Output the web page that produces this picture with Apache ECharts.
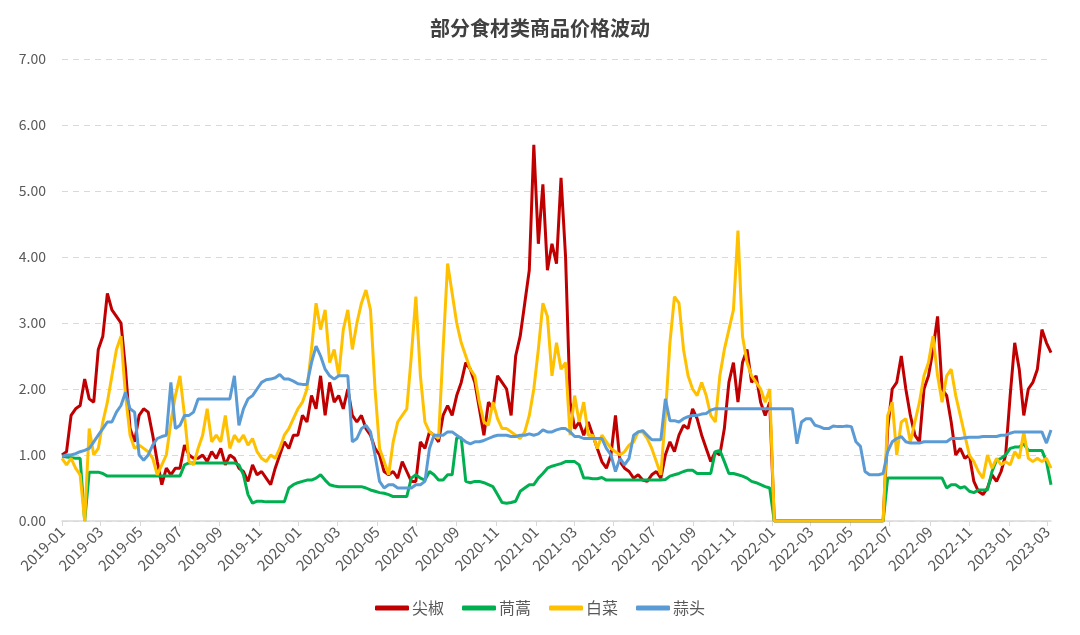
<!DOCTYPE html>
<html>
<head>
<meta charset="utf-8">
<title>部分食材类商品价格波动</title>
<script src="https://cdn.jsdelivr.net/npm/echarts@6/dist/echarts.min.js"></script>
<style>
  html, body { margin: 0; padding: 0; background: #fff; }
  #chart { width: 1080px; height: 635px; }
</style>
</head>
<body>
<div id="chart"></div>
<script>
// 日度类目轴：2019-01-01 起，共 1527 天
const startDay = Date.UTC(2019, 0, 1)
const dayCount = 1527
const weekStep = 7 // 价格每 7 天取一个点

const seriesNames = ['尖椒', '茼蒿', '白菜', '蒜头']
const seriesColors = ['#C00000', '#00B050', '#FFC000', '#5B9BD5']
const yTicks = [0, 1, 2, 3, 4, 5, 6, 7]

// 尖椒 周度价格（每行 13 周）
const jianjiao = [
  1.0, 1.05, 1.6, 1.7, 1.75, 2.15, 1.85, 1.8, 2.6, 2.8, 3.45, 3.2, 3.1,
  3.0, 2.3, 1.4, 1.2, 1.6, 1.7, 1.65, 1.3, 0.9, 0.55, 0.8, 0.7, 0.8,
  0.8, 1.15, 1.0, 0.95, 0.95, 1.0, 0.9, 1.05, 0.95, 1.1, 0.85, 1.0, 0.95,
  0.8, 0.75, 0.6, 0.85, 0.7, 0.75, 0.65, 0.55, 0.8, 1.0, 1.2, 1.1, 1.3,
  1.3, 1.6, 1.5, 1.9, 1.7, 2.2, 1.6, 2.1, 1.8, 1.9, 1.7, 2.0, 1.6,
  1.5, 1.6, 1.4, 1.3, 1.1, 1.0, 0.75, 0.7, 0.75, 0.65, 0.9, 0.75, 0.6,
  0.6, 1.2, 1.1, 1.35, 1.3, 1.2, 1.6, 1.75, 1.6, 1.9, 2.1, 2.4, 2.3,
  2.1, 1.7, 1.3, 1.8, 1.7, 2.2, 2.1, 2.0, 1.6, 2.5, 2.8, 3.3, 3.8,
  5.7, 4.2, 5.1, 3.8, 4.2, 3.9, 5.2, 4.0, 1.8, 1.4, 1.5, 1.3, 1.5,
  1.3, 1.1, 0.9, 0.8, 1.0, 1.6, 0.9, 0.8, 0.75, 0.65, 0.7, 0.62, 0.6,
  0.7, 0.75, 0.65, 1.0, 1.2, 1.05, 1.3, 1.45, 1.4, 1.7, 1.55, 1.3, 1.1,
  0.9, 1.05, 1.0, 1.4, 2.1, 2.4, 1.8, 2.4, 2.6, 2.1, 2.2, 1.8, 1.6,
  1.8, 0, 0, 0, 0, 0, 0, 0, 0, 0, 0, 0, 0,
  0, 0, 0, 0, 0, 0, 0, 0, 0, 0, 0, 0, 0,
  1.4, 2.0, 2.1, 2.5, 2.0, 1.6, 1.3, 1.2, 2.0, 2.2, 2.6, 3.1, 2.0,
  1.9, 1.5, 1.0, 1.1, 0.95, 1.0, 0.6, 0.45, 0.4, 0.5, 0.7, 0.6, 0.75,
  1.0, 1.9, 2.7, 2.3, 1.6, 2.0, 2.1, 2.3, 2.9, 2.7, 2.55
]

// 茼蒿
const tonghao = [
  0.98, 0.97, 0.96, 0.95, 0.95, 0, 0.74, 0.74, 0.74, 0.72, 0.68, 0.68, 0.68,
  0.68, 0.68, 0.68, 0.68, 0.68, 0.68, 0.68, 0.68, 0.68, 0.68, 0.68, 0.68, 0.68,
  0.68, 0.85, 0.88, 0.88, 0.88, 0.88, 0.88, 0.88, 0.88, 0.88, 0.88, 0.88, 0.88,
  0.85, 0.7, 0.4, 0.27, 0.3, 0.3, 0.29, 0.29, 0.29, 0.29, 0.29, 0.5, 0.55,
  0.58, 0.6, 0.62, 0.62, 0.65, 0.7, 0.62, 0.55, 0.53, 0.52, 0.52, 0.52, 0.52,
  0.52, 0.52, 0.5, 0.47, 0.45, 0.43, 0.42, 0.4, 0.37, 0.37, 0.37, 0.37, 0.65,
  0.7, 0.65, 0.62, 0.75, 0.7, 0.62, 0.62, 0.7, 0.7, 1.26, 1.26, 0.6, 0.58,
  0.6, 0.6, 0.58, 0.55, 0.52, 0.4, 0.28, 0.27, 0.28, 0.3, 0.45, 0.5, 0.55,
  0.55, 0.65, 0.72, 0.8, 0.83, 0.85, 0.87, 0.9, 0.9, 0.9, 0.85, 0.65, 0.65,
  0.64, 0.64, 0.66, 0.62, 0.62, 0.62, 0.62, 0.62, 0.62, 0.62, 0.62, 0.62, 0.62,
  0.62, 0.62, 0.62, 0.63, 0.68, 0.7, 0.72, 0.75, 0.77, 0.77, 0.72, 0.72, 0.72,
  0.72, 1.05, 1.07, 0.9, 0.72, 0.72, 0.7, 0.68, 0.65, 0.6, 0.58, 0.55, 0.52,
  0.5, 0, 0, 0, 0, 0, 0, 0, 0, 0, 0, 0, 0,
  0, 0, 0, 0, 0, 0, 0, 0, 0, 0, 0, 0, 0,
  0.65, 0.65, 0.65, 0.65, 0.65, 0.65, 0.65, 0.65, 0.65, 0.65, 0.65, 0.65, 0.65,
  0.5, 0.55, 0.55, 0.5, 0.52, 0.45, 0.43, 0.47, 0.47, 0.47, 0.75, 0.92, 0.95,
  1.0, 1.1, 1.12, 1.12, 1.17, 1.07, 1.07, 1.07, 1.07, 0.9, 0.55
]

// 白菜
const baicai = [
  0.95, 0.85, 0.95, 0.8, 0.7, 0, 1.4, 1.0, 1.1, 1.5, 1.8, 2.2, 2.6,
  2.8, 1.9, 1.3, 1.1, 1.15, 1.1, 1.05, 0.95, 0.7, 0.85, 1.0, 1.5, 1.9,
  2.2, 1.6, 0.9, 0.85, 1.1, 1.3, 1.7, 1.2, 1.3, 1.2, 1.6, 1.1, 1.3,
  1.2, 1.3, 1.15, 1.25, 1.05, 0.95, 0.9, 1.0, 0.95, 1.1, 1.3, 1.4, 1.55,
  1.7, 1.8, 2.0, 2.6, 3.3, 2.9, 3.2, 2.4, 2.6, 2.2, 2.9, 3.2, 2.6,
  3.0, 3.3, 3.5, 3.2, 2.0, 1.1, 0.9, 0.7, 1.2, 1.5, 1.6, 1.7, 2.5,
  3.4, 2.2, 1.5, 1.35, 1.3, 1.25, 2.6, 3.9, 3.45, 3.0, 2.7, 2.5, 2.3,
  2.2, 1.8, 1.5, 1.45, 1.8, 1.55, 1.4, 1.4, 1.35, 1.3, 1.25, 1.35, 1.6,
  2.0, 2.6, 3.3, 3.1, 2.2, 2.7, 2.3, 2.4, 1.3, 1.9, 1.5, 1.8, 1.3,
  1.3, 1.1, 1.3, 1.2, 1.1, 1.05, 1.0, 1.05, 1.15, 1.2, 1.35, 1.35, 1.25,
  1.1, 0.9, 0.7, 1.6, 2.7, 3.4, 3.3, 2.6, 2.2, 2.0, 1.9, 2.1, 1.9,
  1.6, 1.5, 2.2, 2.6, 2.9, 3.2, 4.4, 2.8, 2.4, 2.2, 2.1, 2.0, 1.8,
  2.0, 0, 0, 0, 0, 0, 0, 0, 0, 0, 0, 0, 0,
  0, 0, 0, 0, 0, 0, 0, 0, 0, 0, 0, 0, 0,
  1.6, 1.8, 1.0, 1.5, 1.55, 1.2, 1.5, 1.8, 2.2, 2.4, 2.8, 2.2, 1.8,
  2.2, 2.3, 1.9, 1.6, 1.3, 1.0, 0.9, 0.75, 0.65, 1.0, 0.8, 0.95, 0.85,
  0.9, 0.85, 1.05, 0.95, 1.35, 0.95, 0.9, 0.95, 0.9, 0.95, 0.8
]

// 蒜头
const suantou = [
  0.98, 1.0, 1.0, 1.02, 1.05, 1.07, 1.1, 1.2, 1.3, 1.4, 1.5, 1.5, 1.65,
  1.75, 1.95, 1.7, 1.65, 1.0, 0.92, 1.0, 1.15, 1.25, 1.28, 1.3, 2.1, 1.4,
  1.45, 1.6, 1.6, 1.65, 1.85, 1.85, 1.85, 1.85, 1.85, 1.85, 1.85, 1.85, 2.2,
  1.45, 1.7, 1.85, 1.9, 2.0, 2.1, 2.14, 2.15, 2.17, 2.22, 2.15, 2.15, 2.12,
  2.08, 2.07, 2.07, 2.4, 2.65, 2.5, 2.3, 2.2, 2.15, 2.2, 2.2, 2.2, 1.2,
  1.25, 1.4, 1.45, 1.35, 1.0, 0.6, 0.5, 0.55, 0.55, 0.5, 0.5, 0.5, 0.5,
  0.55, 0.55, 0.6, 1.1, 1.3, 1.3, 1.3, 1.35, 1.35, 1.3, 1.25, 1.2, 1.17,
  1.2, 1.2, 1.22, 1.25, 1.28, 1.3, 1.3, 1.3, 1.28, 1.28, 1.3, 1.3, 1.32,
  1.3, 1.32, 1.38, 1.35, 1.35, 1.38, 1.4, 1.4, 1.35, 1.28, 1.28, 1.25, 1.25,
  1.25, 1.25, 1.25, 1.1, 1.0, 0.75, 0.95, 0.85, 0.95, 1.3, 1.35, 1.37, 1.3,
  1.23, 1.23, 1.23, 1.85, 1.52, 1.52, 1.5, 1.55, 1.58, 1.6, 1.6, 1.62, 1.63,
  1.68, 1.7, 1.7, 1.7, 1.7, 1.7, 1.7, 1.7, 1.7, 1.7, 1.7, 1.7, 1.7,
  1.7, 1.7, 1.7, 1.7, 1.7, 1.7, 1.17, 1.5, 1.55, 1.55, 1.45, 1.43, 1.4,
  1.4, 1.44, 1.43, 1.43, 1.44, 1.43, 1.2, 1.13, 0.75, 0.7, 0.7, 0.7, 0.72,
  1.05, 1.2, 1.25, 1.28, 1.2, 1.18, 1.18, 1.18, 1.2, 1.2, 1.2, 1.2, 1.2,
  1.2, 1.25, 1.25, 1.25, 1.26, 1.27, 1.27, 1.27, 1.28, 1.28, 1.28, 1.28, 1.3,
  1.3, 1.33, 1.35, 1.35, 1.35, 1.35, 1.35, 1.35, 1.35, 1.18, 1.38
]

const seriesValues = [jianjiao, tonghao, baicai, suantou]

// 生成日期类目
function pad (n) { return n < 10 ? '0' + n : '' + n }
const dates = []
for (let i = 0; i < dayCount; i++) {
  const d = new Date(startDay + i * 86400000)
  dates.push(d.getUTCFullYear() + '-' + pad(d.getUTCMonth() + 1) + '-' + pad(d.getUTCDate()))
}

// 只在单数月的 1 号显示刻度和标签
function showTick (index, value) {
  const m = +value.slice(5, 7)
  return value.slice(8) === '01' && m % 2 === 1
}

const fontFamily = '"Noto Sans CJK SC", "Noto Sans", sans-serif'

const chart = echarts.init(document.getElementById('chart'))
chart.setOption({
  animation: false,
  backgroundColor: '#fff',
  textStyle: { fontFamily: fontFamily },
  title: {
    text: '部分食材类商品价格波动',
    left: 'center',
    top: 13,
    textStyle: { fontSize: 20, fontWeight: 'bold', color: '#404040', fontFamily: fontFamily }
  },
  legend: {
    data: seriesNames,
    bottom: 14,
    left: 'center',
    icon: 'roundRect',
    itemWidth: 34,
    itemHeight: 5,
    itemGap: 18,
    textStyle: { fontSize: 16, color: '#595959', padding: [0, 0, 0, -2] }
  },
  grid: { left: 62, right: 29, top: 59, bottom: 114, containLabel: false },
  xAxis: {
    type: 'category',
    data: dates,
    boundaryGap: false,
    axisLine: { lineStyle: { color: '#d9d9d9', width: 1.5 } },
    axisTick: { show: true, interval: showTick, length: 5, lineStyle: { color: '#d9d9d9' } },
    axisLabel: {
      interval: showTick,
      rotate: 45,
      margin: 8,
      color: '#595959',
      fontSize: 15,
      formatter: v => v.slice(0, 7)
    },
    splitLine: { show: false }
  },
  yAxis: {
    type: 'value',
    min: yTicks[0],
    max: yTicks[yTicks.length - 1],
    interval: 1,
    axisLine: { show: false },
    axisTick: { show: false },
    axisLabel: { color: '#595959', fontSize: 14, margin: 16, formatter: v => v.toFixed(2) },
    splitLine: { lineStyle: { color: '#d9d9d9', type: [6, 5], width: 1.2 } }
  },
  series: seriesNames.map((name, k) => ({
    name: name,
    type: 'line',
    showSymbol: false,
    symbol: 'none',
    color: seriesColors[k],
    lineStyle: { width: 3, color: seriesColors[k] },
    data: seriesValues[k].map((v, i) => [i * weekStep, v])
  }))
})
</script>
</body>
</html>
